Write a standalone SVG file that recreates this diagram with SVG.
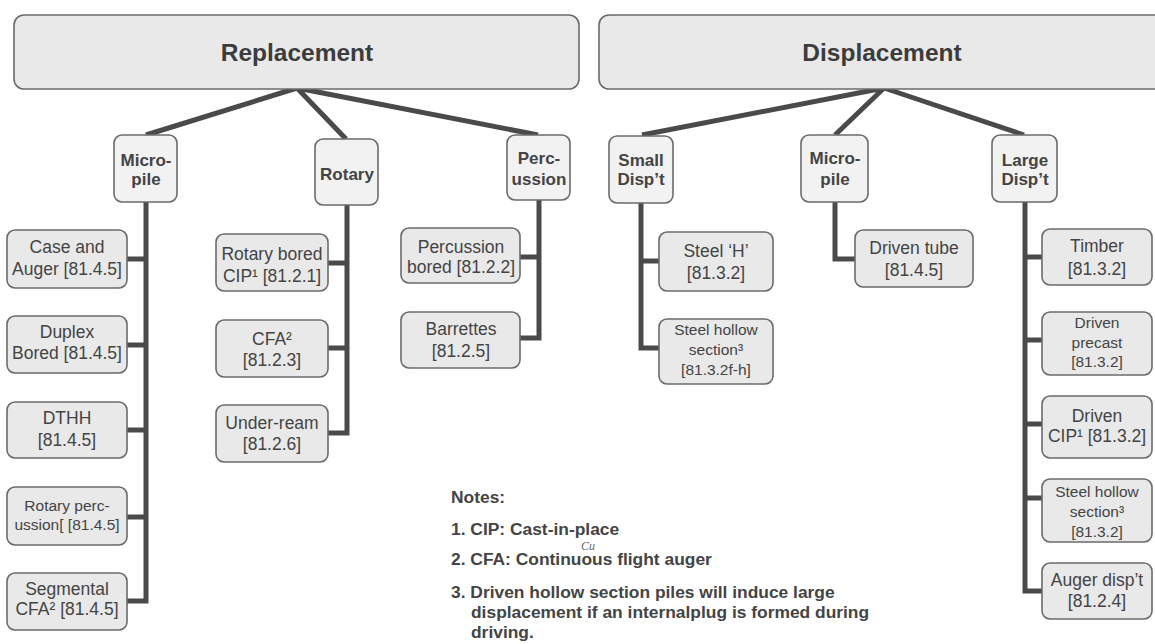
<svg xmlns="http://www.w3.org/2000/svg" width="1155" height="644" viewBox="0 0 1155 644">
<style>
.top{fill:#e9e9ea;stroke:#6b6b6b;stroke-width:1.6}
.l1{fill:#f2f2f2;stroke:#6b6b6b;stroke-width:1.6}
.ch{fill:#e9e9e9;stroke:#6b6b6b;stroke-width:1.6}
.tt{font-family:"Liberation Sans",Arial,sans-serif;font-weight:bold;font-size:24.5px;fill:#3c3c3c;text-anchor:middle}
.t1{font-family:"Liberation Sans",Arial,sans-serif;font-weight:bold;font-size:17px;fill:#444;text-anchor:middle}
.t2{font-family:"Liberation Sans",Arial,sans-serif;font-size:17.5px;fill:#444;text-anchor:middle}
.t3{font-family:"Liberation Sans",Arial,sans-serif;font-size:15.5px;fill:#444;text-anchor:middle}
.nt{font-family:"Liberation Sans",Arial,sans-serif;font-weight:bold;font-size:17.4px;fill:#444}
.cn{fill:none;stroke:#4a4a4a;stroke-width:5;stroke-linejoin:miter}
</style>
<g id="connectors">
<path class="cn" d="M297,88 L146,135 M297,88 L346,139 M297,88 L538,135"/>
<path class="cn" d="M884,88 L642,135 M884,88 L835,135 M884,88 L1024,135"/>
<path class="cn" d="M146,202 V601 H127 M127,259 H146 M127,345 H146 M127,430 H146 M127,517 H146"/>
<path class="cn" d="M347,205 V433 H328 M328,263 H347 M328,348 H347"/>
<path class="cn" d="M539,200 V338 H520 M520,257 H539"/>
<path class="cn" d="M641,203 V348 H659 M641,261 H659"/>
<path class="cn" d="M835,202 V259 H855"/>
<path class="cn" d="M1025,202 V591 H1042 M1025,257 H1042 M1025,340 H1042 M1025,424 H1042 M1025,498 H1042"/>
</g>
<g id="replacement"><rect class="top" x="14" y="15" width="565" height="74" rx="10"/><text class="tt" x="297" y="61">Replacement</text></g>
<g id="displacement"><rect class="top" x="599" y="15" width="570" height="74" rx="10"/><text class="tt" x="882" y="61">Displacement</text></g>
<g id="micropile-r"><rect class="l1" x="114" y="135" width="63" height="67" rx="8"/><text class="t1" x="146" y="166">Micro-</text><text class="t1" x="146" y="185">pile</text></g>
<g id="rotary"><rect class="l1" x="315" y="139" width="63" height="66" rx="8"/><text class="t1" x="347" y="180">Rotary</text></g>
<g id="percussion"><rect class="l1" x="507" y="135" width="63" height="65" rx="8"/><text class="t1" x="539" y="164">Perc-</text><text class="t1" x="539" y="185">ussion</text></g>
<g id="small-disp"><rect class="l1" x="609" y="136" width="64" height="67" rx="8"/><text class="t1" x="641" y="166">Small</text><text class="t1" x="641" y="185">Disp’t</text></g>
<g id="micropile-d"><rect class="l1" x="801" y="135" width="67" height="67" rx="8"/><text class="t1" x="835" y="164">Micro-</text><text class="t1" x="835" y="185">pile</text></g>
<g id="large-disp"><rect class="l1" x="992" y="135" width="65" height="67" rx="8"/><text class="t1" x="1025" y="166">Large</text><text class="t1" x="1025" y="185">Disp’t</text></g>
<g id="case-auger"><rect class="ch" x="7" y="230" width="120" height="58" rx="8"/><text class="t2" x="67" y="253">Case and</text><text class="t2" x="67" y="275">Auger [81.4.5]</text></g>
<g id="duplex"><rect class="ch" x="7" y="316" width="120" height="57" rx="8"/><text class="t2" x="67" y="338">Duplex</text><text class="t2" x="67" y="359">Bored [81.4.5]</text></g>
<g id="dthh"><rect class="ch" x="7" y="402" width="120" height="56" rx="8"/><text class="t2" x="67" y="424">DTHH</text><text class="t2" x="67" y="446">[81.4.5]</text></g>
<g id="rotary-perc"><rect class="ch" x="7" y="487" width="120" height="58" rx="8"/><text class="t3" x="67" y="511">Rotary perc-</text><text class="t3" x="67" y="530">ussion[ [81.4.5]</text></g>
<g id="segmental"><rect class="ch" x="7" y="573" width="120" height="57" rx="8"/><text class="t2" x="67" y="595">Segmental</text><text class="t2" x="67" y="615">CFA² [81.4.5]</text></g>
<g id="rotary-bored"><rect class="ch" x="216" y="234" width="112" height="57" rx="8"/><text class="t2" x="272" y="260">Rotary bored</text><text class="t2" x="272" y="282">CIP¹ [81.2.1]</text></g>
<g id="cfa"><rect class="ch" x="216" y="320" width="112" height="57" rx="8"/><text class="t2" x="272" y="345">CFA²</text><text class="t2" x="272" y="366">[81.2.3]</text></g>
<g id="under-ream"><rect class="ch" x="216" y="405" width="112" height="57" rx="8"/><text class="t2" x="272" y="429">Under-ream</text><text class="t2" x="272" y="450">[81.2.6]</text></g>
<g id="perc-bored"><rect class="ch" x="401" y="228" width="119" height="55" rx="8"/><text class="t2" x="461" y="253">Percussion</text><text class="t2" x="461" y="273">bored [81.2.2]</text></g>
<g id="barrettes"><rect class="ch" x="401" y="312" width="119" height="56" rx="8"/><text class="t2" x="461" y="335">Barrettes</text><text class="t2" x="461" y="357">[81.2.5]</text></g>
<g id="steel-h"><rect class="ch" x="659" y="232" width="114" height="59" rx="8"/><text class="t2" x="716" y="257">Steel ‘H’</text><text class="t2" x="716" y="279">[81.3.2]</text></g>
<g id="steel-hollow-s"><rect class="ch" x="659" y="319" width="114" height="65" rx="8"/><text class="t3" x="716" y="335">Steel hollow</text><text class="t3" x="716" y="355">section³</text><text class="t3" x="716" y="375">[81.3.2f-h]</text></g>
<g id="driven-tube"><rect class="ch" x="855" y="230" width="118" height="57" rx="8"/><text class="t2" x="914" y="254">Driven tube</text><text class="t2" x="914" y="276">[81.4.5]</text></g>
<g id="timber"><rect class="ch" x="1042" y="229" width="110" height="56" rx="8"/><text class="t2" x="1097" y="252">Timber</text><text class="t2" x="1097" y="275">[81.3.2]</text></g>
<g id="driven-precast"><rect class="ch" x="1042" y="312" width="110" height="63" rx="8"/><text class="t3" x="1097" y="328">Driven</text><text class="t3" x="1097" y="348">precast</text><text class="t3" x="1097" y="367">[81.3.2]</text></g>
<g id="driven-cip"><rect class="ch" x="1042" y="396" width="110" height="62" rx="8"/><text class="t2" x="1097" y="422">Driven</text><text class="t2" x="1097" y="442">CIP¹ [81.3.2]</text></g>
<g id="steel-hollow-l"><rect class="ch" x="1042" y="479" width="110" height="63" rx="8"/><text class="t3" x="1097" y="497">Steel hollow</text><text class="t3" x="1097" y="517">section³</text><text class="t3" x="1097" y="537">[81.3.2]</text></g>
<g id="auger-disp"><rect class="ch" x="1042" y="563" width="110" height="56" rx="8"/><text class="t2" x="1097" y="586">Auger disp’t</text><text class="t2" x="1097" y="607">[81.2.4]</text></g>
<g id="notes">
<text class="nt" x="451" y="503">Notes:</text>
<text class="nt" x="451" y="535">1. CIP: Cast-in-place</text>
<text class="nt" x="451" y="565">2. CFA: Continuous flight auger</text>
<text class="nt" x="451" y="598">3. Driven hollow section piles will induce large</text>
<text class="nt" x="471" y="618">displacement if an internalplug is formed during</text>
<text class="nt" x="471" y="638">driving.</text>
<text x="581" y="550" style="font-family:'Liberation Serif',serif;font-style:italic;font-size:12px;fill:#666">Cu</text>
</g>
</svg>
